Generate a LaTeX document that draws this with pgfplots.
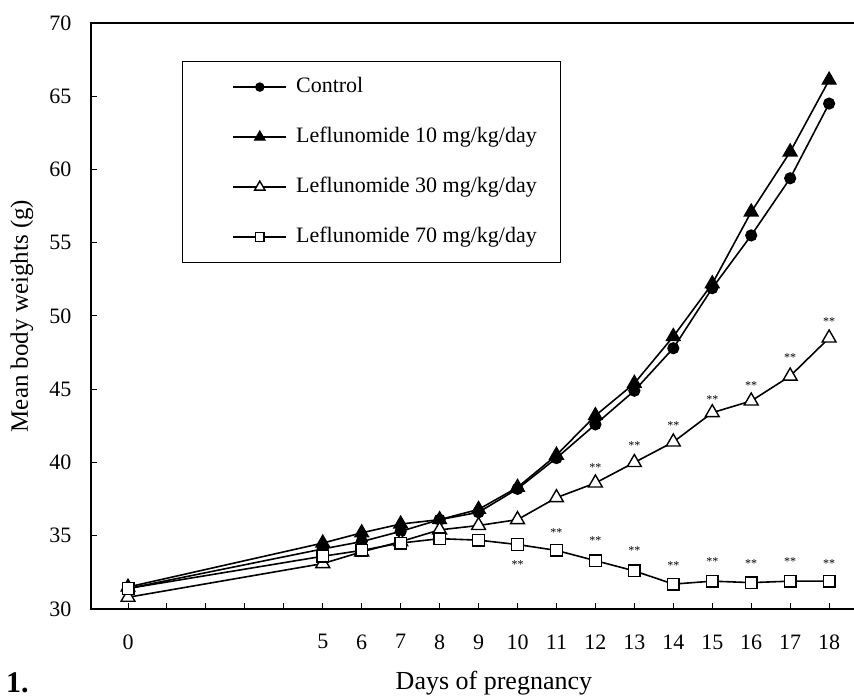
\documentclass[border=0pt]{standalone}
\usepackage{fontspec}
\setmainfont{Liberation Serif}
\usepackage{pgfplots}
\pgfplotsset{compat=1.18}
\tikzset{star/.style={font=\fontsize{12}{12}\selectfont, anchor=base, yshift=-6.5pt, inner sep=0pt}}
\begin{document}
\fontsize{22}{26}\selectfont
\begin{tikzpicture}
\path[use as bounding box] (-91pt,-91pt) rectangle (763pt,609pt);
\begin{axis}[
 at={(0pt,0pt)}, anchor=south west,
 scale only axis, width=766pt, height=586pt,
 xmin=-0.95, xmax=18.716, ymin=30, ymax=70,
 xtick={0,...,18}, xticklabels={0,,,,,5,6,7,8,9,10,11,12,13,14,15,16,17,18},
 ytick={30,35,...,70},
 xtick pos=bottom, ytick pos=left,
 tick align=inside, major tick length=6pt,
 every tick/.style={black, line width=1pt},
 axis line style={line width=2.2pt},
 /pgf/number format/assume math mode=true,
 tick label style={font=\fontsize{22}{26}\selectfont},
 xticklabel style={yshift=-18pt},
 yticklabel style={xshift=-12pt},
 xlabel={Days of pregnancy},
 ylabel={Mean body weights (g)},
 every axis x label/.style={at={(rel axis cs:0.526,0)}, anchor=base, yshift=-81pt, font=\fontsize{26}{30}\selectfont},
 every axis y label/.style={at={(rel axis cs:-0.0901,0.5)}, anchor=center, rotate=90, font=\fontsize{25}{30}\selectfont},
 legend style={at={(rel axis cs:0.1188,0.935)}, anchor=north west, draw=black, line width=1pt,
   inner xsep=24pt, inner ysep=15pt, row sep=29pt, column sep=9pt,
   font=\fontsize{22}{26}\selectfont,
   nodes={inner sep=0pt, text height=16pt, text depth=5pt}},
 legend cell align=left,
 legend image code/.code={
   \path (-26pt,0pt);
   \draw[mark repeat=2, mark phase=2, #1, every mark/.append style={scale=0.75}] plot coordinates {(0pt,0pt) (26.5pt,0pt) (53pt,0pt)};
 },
]
\addplot[black, line width=1.6pt, mark=*, mark size=5.5pt, mark options={line width=1.2pt, solid}] coordinates {
(0,31.4) (5,34.1) (6,34.6) (7,35.3) (8,36.1) (9,36.6) (10,38.2) (11,40.3) (12,42.6) (13,44.9) (14,47.8) (15,51.9) (16,55.5) (17,59.4) (18,64.5)};
\addplot[black, line width=1.6pt, mark=triangle*, mark size=8pt, mark options={line width=1.2pt, solid}] coordinates {
(0,31.5) (5,34.5) (6,35.2) (7,35.8) (8,36.1) (9,36.8) (10,38.3) (11,40.5) (12,43.2) (13,45.4) (14,48.6) (15,52.2) (16,57.1) (17,61.2) (18,66.1)};
\addplot[black, line width=1.6pt, mark=triangle*, mark size=8pt, mark options={line width=1.4pt, solid, fill=white}] coordinates {
(0,30.8) (5,33.1) (6,33.9) (7,34.6) (8,35.4) (9,35.7) (10,36.1) (11,37.6) (12,38.6) (13,40.0) (14,41.4) (15,43.4) (16,44.2) (17,45.9) (18,48.5)};
\addplot[black, line width=1.6pt, mark=square*, mark size=5.8pt, mark options={line width=1.4pt, solid, fill=white}] coordinates {
(0,31.4) (5,33.6) (6,34.0) (7,34.5) (8,34.8) (9,34.7) (10,34.4) (11,34.0) (12,33.3) (13,32.6) (14,31.7) (15,31.9) (16,31.8) (17,31.9) (18,31.9)};
\legend{Control, Leflunomide 10 mg/kg/day, Leflunomide 30 mg/kg/day, Leflunomide 70 mg/kg/day}
\node[star] at (axis cs:12,39.83) {**};
\node[star] at (axis cs:13,41.31) {**};
\node[star] at (axis cs:14,42.72) {**};
\node[star] at (axis cs:15,44.45) {**};
\node[star] at (axis cs:16,45.45) {**};
\node[star] at (axis cs:17,47.34) {**};
\node[star] at (axis cs:18,49.78) {**};
\node[star] at (axis cs:10,33.23) {**};
\node[star] at (axis cs:11,35.39) {**};
\node[star] at (axis cs:12,34.83) {**};
\node[star] at (axis cs:13,34.14) {**};
\node[star] at (axis cs:14,33.12) {**};
\node[star] at (axis cs:15,33.39) {**};
\node[star] at (axis cs:16,33.30) {**};
\node[star] at (axis cs:17,33.39) {**};
\node[star] at (axis cs:18,33.30) {**};
\end{axis}
\node[anchor=base west, font=\fontsize{30}{34}\selectfont\bfseries, inner sep=0pt] at (-85pt,-84pt) {1.};
\end{tikzpicture}
\end{document}
